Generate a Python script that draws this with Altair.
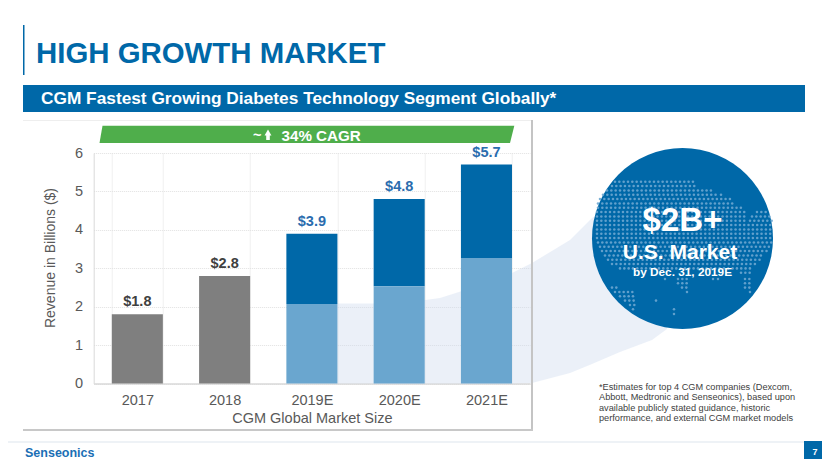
import altair as alt
import pandas as pd

FONT = "Liberation Sans"
BLUE = "#0068a8"

# ---- chart data
years = ["2017", "2018", "2019E", "2020E", "2021E"]
base_values = [0, 0, 0, 0, 0]
gray_values = [1.8, 2.8, 0, 0, 0]
light_values = [0, 0, 2.07, 2.53, 3.27]
total_values = [1.8, 2.8, 3.9, 4.8, 5.7]
total_labels = ["$1.8", "$2.8", "$3.9", "$4.8", "$5.7"]
label_colors = ["#404040", "#404040", "#2a6cae", "#2a6cae", "#2a6cae"]

# ---- decoration, in page pixels
sw_x = [337, 400, 440, 500, 532, 570, 592, 620, 652, 667]
sw_top = [303.5, 303.5, 298, 279, 263, 240, 218, 200, 200, 200]
sw_bot = [383.5, 383.5, 383.5, 383.5, 383, 373, 364, 352, 340, 329]
banner_x = [99.5, 102.5, 510, 514.3]
banner_top = [143, 125.7, 125.7, 125.7]
banner_bot = [143, 143, 143, 125.7]

dot_rows = [
    (181.7, [(615, 697)]), (186, [(612, 697)]), (190.4, [(607, 715)]),
    (194.7, [(603, 718), (721, 724)]), (199, [(600, 730)]), (203.4, [(598, 733)]),
    (207.7, [(598, 743)]), (212, [(597, 745), (757, 767)]),
    (216.4, [(597, 745), (752, 770)]), (220.7, [(597, 748), (750, 772)]),
    (225, [(597, 772)]), (229.4, [(597, 772)]), (233.7, [(597, 772)]),
    (238, [(597, 772)]), (242.4, [(598, 772)]), (246.7, [(600, 770)]),
    (251, [(602, 768)]), (255.4, [(605, 764)]), (259.7, [(608, 760)]),
    (264, [(612, 756)]), (268.4, [(620, 752)]), (272.7, [(741, 752)]),
    (279, [(665, 666), (678, 688), (713, 714), (718, 719), (745, 752)]),
    (283.3, [(678, 688), (745, 752)]),
    (287.6, [(612, 617), (682, 688), (745, 752)]),
    (292, [(615, 635), (687, 688), (750, 751)]),
    (296.3, [(620, 635)]), (300.6, [(625, 635), (656, 657)]),
    (305, [(630, 635)]), (309.3, [(633, 634), (674, 675)]), (314, [(674, 678)]),
]
dot_x, dot_y = [], []
for row_y, spans in dot_rows:
    for a, b in spans:
        px = a
        while px <= b:
            dot_x.append(px)
            dot_y.append(row_y)
            px += 4.33

L, T, W, H = 93.7, 153.0, 436.4, 230.5
xs = alt.Scale(domain=years, range=[0, W], paddingInner=0.415, paddingOuter=0.2075)
ys = alt.Scale(domain=[0, 6], range=[H, 0], nice=False)
px_x = alt.Scale(domain=[L, L + W], range=[0, W], nice=False, zero=False)
px_y = alt.Scale(domain=[T, T + H], range=[0, H], nice=False, zero=False)

one = alt.Data(values=[{"k": 1}])
df = pd.DataFrame({"year": years, "base": base_values, "gray": gray_values,
                   "light": light_values, "total": total_values,
                   "label": total_labels, "col": label_colors})


def vx(p):
    return alt.value(p - L)


def vy(p):
    return alt.value(p - T)


def box(x0, x1, y0, y1, color, **kw):
    return alt.Chart(one).mark_rect(color=color, **kw).encode(
        x=vx(x0), x2=vx(x1), y=vy(y0), y2=vy(y1))


def txt(s, x, y, size, color, bold=False, align="left", **kw):
    return alt.Chart(one).mark_text(
        text=s, font=FONT, fontSize=size, color=color, align=align,
        baseline="alphabetic", fontWeight="bold" if bold else "normal", **kw
    ).encode(x=vx(x), y=vy(y))


swoosh = alt.Chart(pd.DataFrame({"x": sw_x, "t": sw_top, "b": sw_bot})).mark_area(
    color="#cfdbef", opacity=0.42, orient="vertical"
).encode(x=alt.X("x:Q", scale=px_x, axis=None),
         y=alt.Y("t:Q", scale=px_y, axis=None), y2="b:Q")

axes = alt.Chart(df).mark_bar(opacity=0).encode(
    x=alt.X("year:N", scale=xs, sort=years, axis=alt.Axis(
        title="CGM Global Market Size", titleFont=FONT, titleFontSize=14.5,
        titleFontWeight="normal", titleColor="#595959", titlePadding=4,
        labelFont=FONT, labelFontSize=14.5, labelColor="#595959", labelAngle=0,
        labelPadding=10, ticks=False, tickBand="extent", grid=True,
        gridColor="#e0e0e0", gridDash=[1, 1], domainColor="#d9d9d9", domainWidth=1.5)),
    y=alt.Y("total:Q", scale=ys, axis=alt.Axis(
        title="Revenue in Billions ($)", titleFont=FONT, titleFontSize=14,
        titleFontWeight="normal", titleColor="#595959",
        titleX=-39.4, titleY=104.5, titleBaseline="alphabetic",
        labelFont=FONT, labelFontSize=14.5, labelColor="#595959", labelPadding=11,
        values=[0, 1, 2, 3, 4, 5, 6], ticks=False, domain=True,
        domainColor="#d9d9d9", domainWidth=1, grid=True,
        gridColor="#e0e0e0", gridDash=[1, 1])),
)


def bars(field, field2, color):
    return alt.Chart(df).mark_bar(color=color).encode(
        x=alt.X("year:N", scale=xs, sort=years, axis=None),
        y=alt.Y(f"{field}:Q", scale=ys, axis=None), y2=f"{field2}:Q")


gray_bars = bars("base", "gray", "#7f7f7f")
dark_bars = alt.Chart(df[df.light > 0]).mark_bar(color=BLUE).encode(
    x=alt.X("year:N", scale=xs, sort=years, axis=None),
    y=alt.Y("light:Q", scale=ys, axis=None), y2="total:Q")
light_bars = bars("base", "light", "#6aa6cf")

labels = alt.Chart(df).mark_text(font=FONT, fontSize=14.5, fontWeight="bold", dy=-5, baseline="bottom").encode(
    x=alt.X("year:N", scale=xs, sort=years, axis=None),
    y=alt.Y("total:Q", scale=ys, axis=None),
    text="label:N",
    color=alt.Color("col:N", scale=None),
)

banner = alt.Chart(pd.DataFrame({"x": banner_x, "t": banner_top, "b": banner_bot})).mark_area(
    color="#4fae4b", orient="vertical"
).encode(x=alt.X("x:Q", scale=px_x, axis=None),
         y=alt.Y("t:Q", scale=px_y, axis=None), y2="b:Q")

disc = alt.Chart(one).mark_point(filled=True, shape="circle", size=32761, color=BLUE, opacity=1).encode(
    x=vx(682.5), y=vy(238.5))

dots = alt.Chart(pd.DataFrame({"x": dot_x, "y": dot_y})).mark_point(
    filled=True, shape="circle", size=6.5, color="#6ca6d0", opacity=0.9
).encode(x=alt.X("x:Q", scale=px_x, axis=None), y=alt.Y("y:Q", scale=px_y, axis=None))

arrow_head = alt.Chart(one).mark_point(filled=True, shape="triangle-up", size=48, color="white", opacity=1).encode(
    x=vx(268), y=vy(132.5))

chart = alt.layer(
    swoosh, axes, gray_bars, dark_bars, light_bars, labels,
    box(531, 533, 120, 431, "#c4c4c4"),
    box(23, 533, 429, 431, "#c8c8c8"),
    box(23, 531, 120, 121, "#eeeeee"),
    banner,
    txt("~", 253, 140, 14.5, "white", True),
    arrow_head,
    box(266.2, 269.8, 134, 140, "white"),
    txt("34% CAGR", 281.5, 140.5, 15.2, "white", True),
    disc, dots,
    txt("$2B+", 682.5, 231, 33, "white", True, "center"),
    txt("U.S. Market", 680, 259, 21, "white", True, "center"),
    txt("by Dec. 31, 2019E", 682.5, 275.5, 11.8, "white", True, "center"),
    box(23, 24.5, 25, 75, BLUE),
    txt("HIGH GROWTH MARKET", 36, 63, 29.4, BLUE, True),
    box(23, 805, 85, 112, BLUE),
    txt("CGM Fastest Growing Diabetes Technology Segment Globally*", 41, 104, 17.3, "white", True),
    txt("*Estimates for top 4 CGM companies (Dexcom,", 599, 390, 9.2, "#404040"),
    txt("Abbott, Medtronic and Senseonics), based upon", 599, 400.3, 9.2, "#404040"),
    txt("available publicly stated guidance, historic", 599, 410.6, 9.2, "#404040"),
    txt("performance, and external CGM market models", 599, 421, 9.2, "#404040"),
    box(8, 804, 441.5, 442.5, "#dde6ee"),
    box(804, 830, 441, 467, BLUE),
    txt("7", 815, 455, 9, "white", True, "center"),
    txt("Senseonics", 25, 456.5, 12.5, "#1b6fb5", True),
).resolve_scale(x="independent", y="independent").properties(
    width=W, height=H,
    padding={"left": L - 8, "top": T - 8, "right": 814 - (L - 8) - W, "bottom": 451 - (T - 8) - H},
    autosize=alt.AutoSizeParams(type="none"),
).configure_view(stroke=None)

chart.save("out.html", embed_options={"renderer": "svg", "actions": False})
